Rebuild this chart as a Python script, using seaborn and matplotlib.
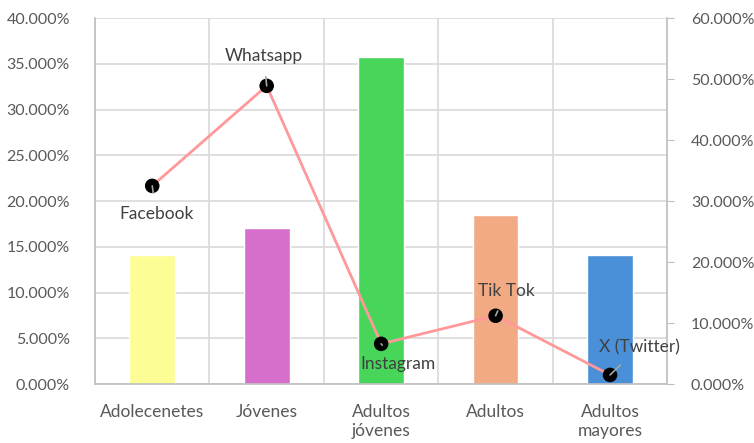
import pandas as pd
import numpy as np
import seaborn as sns
import matplotlib.pyplot as plt
from matplotlib.ticker import PercentFormatter

## Data
grupos = ['Adolecenetes', 'Jóvenes', 'Adultos\njóvenes', 'Adultos', 'Adultos\nmayores']
uso_grupo = [0.141, 0.171, 0.357, 0.185, 0.141]
redes = ['Facebook', 'Whatsapp', 'Instagram', 'Tik Tok', 'X (Twitter)']
uso_red = [0.325, 0.489, 0.066, 0.112, 0.015]
colores = ['#FDFD96', '#D66FCB', '#47D65A', '#F2AA84', '#4A90D9']

df = pd.DataFrame({'grupo': grupos, 'uso': uso_grupo, 'red': redes, 'uso_red': uso_red})
df['pos'] = np.arange(len(df))

sns.set_style('white')
plt.rcParams['font.family'] = ['Lato', 'DejaVu Sans']
gris = '#595959'

fig = plt.figure(figsize=(7.54, 4.43), dpi=100)
ax = fig.add_axes([0.126, 0.133, 0.759, 0.826])

sns.barplot(data=df, x='grupo', y='uso', hue='grupo', palette=colores,
            width=0.4, legend=False, saturation=1, ax=ax)
ax.set_ylim(0, 0.40)
ax.set_yticks(np.arange(0, 0.401, 0.05))
ax.yaxis.set_major_formatter(PercentFormatter(1.0, decimals=3))
ax.set_xlim(-0.5, len(df) - 0.5)
ax.set_xticks(np.arange(len(df) + 1) - 0.5, minor=False)
ax.set_xticklabels([])
ax.set_xticks(df['pos'], minor=True)
ax.set_xticklabels(grupos, minor=True, linespacing=1.3)
ax.tick_params(axis='x', which='both', length=0)
ax.tick_params(axis='x', which='minor', pad=14, labelsize=12.5, labelcolor=gris)
ax.tick_params(axis='y', length=0, pad=18, labelsize=11.5, labelcolor=gris)
ax.grid(True, which='major', color='#D9D9D9', linewidth=1.2)
ax.set_axisbelow(True)
ax.set_xlabel('')
ax.set_ylabel('')
for s in ['top', 'right']:
    ax.spines[s].set_visible(False)
for s in ['left', 'bottom']:
    ax.spines[s].set_color('#BFBFBF')
    ax.spines[s].set_linewidth(1.2)

ax2 = ax.twinx()
sns.lineplot(data=df, x='pos', y='uso_red', color='#FF9999', linewidth=2, ax=ax2)
sns.scatterplot(data=df, x='pos', y='uso_red', color='black', s=110,
                edgecolor='none', zorder=5, ax=ax2)
ax2.set_ylim(0, 0.60)
ax2.set_yticks(np.arange(0, 0.601, 0.10))
ax2.yaxis.set_major_formatter(PercentFormatter(1.0, decimals=3))
ax2.tick_params(axis='y', length=5, color='#BFBFBF', pad=12, labelsize=11.5, labelcolor=gris)
ax2.set_xlabel('')
ax2.set_ylabel('')
ax2.set_xlim(-0.5, len(df) - 0.5)
for s in ['top', 'left', 'bottom']:
    ax2.spines[s].set_visible(False)
ax2.spines['right'].set_color('#BFBFBF')
ax2.spines['right'].set_linewidth(1.2)

# Etiquetas de las redes con lineas guia
offsets = [(4, -28), (-3, 30), (17, -20), (11, 25), (29, 28)]
for i, row in df.iterrows():
    ax2.annotate(row['red'], xy=(row['pos'], row['uso_red']),
                 xytext=offsets[i], textcoords='offset pixels',
                 ha='center', va='center', fontsize=12.5, color='#404040',
                 arrowprops=dict(arrowstyle='-', color='#A6A6A6', lw=1.2,
                                 shrinkA=7, shrinkB=0), zorder=6)

plt.savefig('out.png', dpi=100)
